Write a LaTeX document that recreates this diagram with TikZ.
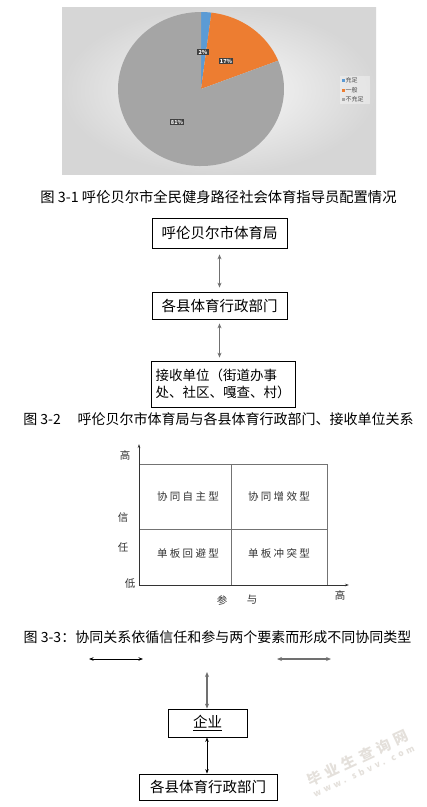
\documentclass[tikz,border=0pt]{standalone}
\usepackage{fontspec}
\setmainfont{Noto Sans CJK SC}
\newfontfamily\cjksp[LetterSpace=22]{Noto Sans CJK SC}
\newfontfamily\wmcjk[LetterSpace=32]{Noto Sans CJK SC}
\newfontfamily\wmlat[LetterSpace=40]{Noto Sans CJK SC}
\usetikzlibrary{arrows.meta}
\definecolor{pieblue}{HTML}{5B9BD5}
\definecolor{pieorange}{HTML}{ED7D31}
\definecolor{piegray}{HTML}{A5A5A5}
\definecolor{arrowgray}{HTML}{707070}
\definecolor{wmcol}{HTML}{E4E0DB}
\tikzset{
  fs/.style={font=\fontsize{#1}{#1}\selectfont},
  plbl/.style={fill=black!75, text=white, font=\fontsize{5.5}{6}\selectfont\bfseries, inner sep=1.2pt},
  legtxt/.style={font=\fontsize{6}{6}\selectfont, text=black!70, anchor=west, inner sep=0pt},
  legsq/.style={minimum size=3pt, inner sep=0pt},
  captxt/.style={fs=14, inner sep=0pt},
  boxnode/.style={draw=black, line width=0.8pt, inner sep=0pt, fs=14.5},
  dbl/.style={{Stealth[length=5pt,width=4pt]}-{Stealth[length=5pt,width=4pt]}, line width=1.4pt, draw=arrowgray},
  dblk/.style={{Stealth[length=4.5pt,width=3.5pt]}-{Stealth[length=4.5pt,width=3.5pt]}, line width=0.9pt, draw=black},
  axisln/.style={-{Stealth[length=4pt,width=2.5pt]}, line width=0.6pt, draw=black!80},
  gridln/.style={line width=0.5pt, draw=black!55},
  celltxt/.style={font=\cjksp\fontsize{10.5}{11}\selectfont, text=black!80, inner sep=0pt},
  axl/.style={fs=10.5, text=black!80, inner sep=0pt},
  wmtxt/.style={text=wmcol, rotate=25, inner sep=0pt, align=center}
}
\begin{document}
\begin{tikzpicture}[x=1pt,y=-1pt]
\useasboundingbox (0,0) rectangle (427,807);
\fill[white] (0,0) rectangle (427,807);

% ---------- pie chart panel ----------
\shade[inner color=white!97!gray, outer color=gray!32] (62,7) rectangle (376,174);
\coordinate (pc) at (201,89);
\fill[pieblue] (pc) -- ++(90:83pt and 77pt) arc[start angle=90, end angle=82.8, x radius=83pt, y radius=77pt] -- cycle;
\fill[pieorange] (pc) -- ++(82.8:83pt and 77pt) arc[start angle=82.8, end angle=21.6, x radius=83pt, y radius=77pt] -- cycle;
\fill[piegray] (pc) -- ++(21.6:83pt and 77pt) arc[start angle=21.6, end angle=-270, x radius=83pt, y radius=77pt] -- cycle;
\node[plbl] (p2) at (203,52) {2\%};
\node[plbl] (p17) at (226,61) {17\%};
\node[plbl] (p81) at (177,122) {81\%};
% legend
\fill[white, opacity=0.35] (340,76) rectangle (370,104);
\node[legsq, fill=pieblue] (sq1) at (343.5,80.5) {};
\node[legtxt] (lg1) at (345.5,80.5) {充足};
\node[legsq, fill=pieorange] (sq2) at (343.5,90) {};
\node[legtxt] (lg2) at (345.5,90) {一般};
\node[legsq, fill=piegray] (sq3) at (343.5,99.5) {};
\node[legtxt] (lg3) at (345.5,99.5) {不充足};

\node[captxt, fs=14.3] (cap1) at (218.5,197) {图 3-1 呼伦贝尔市全民健身路径社会体育指导员配置情况};

% ---------- figure 3-2 ----------
\node[boxnode, minimum width=135, minimum height=30] (b1) at (219.5,233) {呼伦贝尔市体育局};
\node[boxnode, minimum width=135, minimum height=27] (b2) at (219.5,305.5) {各县体育行政部门};
\node[boxnode, minimum width=144, minimum height=46, align=left, fs=13.5] (b3) at (223,384) {接收单位（街道办事\\[3pt]处、社区、嘎查、村）};
\draw[dbl, shorten <=6pt, shorten >=4pt] (b1.south) -- (b2.north);
\draw[dbl, shorten <=4pt, shorten >=3pt] (b2.south) -- (b2.south |- b3.north);

\node[captxt] (cap2) at (218.5,419) {图 3-2\hspace{1.2em}呼伦贝尔市体育局与各县体育行政部门、接收单位关系};

% ---------- figure 3-3 matrix ----------
\coordinate (o) at (139,585);
\coordinate (ytop) at (139,444);
\coordinate (xend) at (349,585);
\draw[gridln] (139,464) -- (327,464) -- (327,585);
\draw[gridln] (231,464) -- (231,585);
\draw[gridln] (139,529) -- (327,529);
\draw[axisln] (o) -- (ytop);
\draw[axisln] (o) -- (xend);
\node[celltxt] (c1) at (188,497) {协同自主型};
\node[celltxt] (c2) at (279,497) {协同增效型};
\node[celltxt] (c3) at (188,553) {单板回避型};
\node[celltxt] (c4) at (279,553) {单板冲突型};
\node[axl] (hy) at (125,455) {高};
\node[axl] (xin) at (123,518) {信};
\node[axl] (ren) at (123,548) {任};
\node[axl] (di) at (130,584) {低};
\node[axl] (can) at (222,600) {参};
\node[axl] (yu) at (252,600) {与};
\node[axl] (hx) at (340,595) {高};

\node[captxt] (cap3) at (217.5,637) {图 3-3：协同关系依循信任和参与两个要素而形成不同协同类型};

% ---------- bottom ----------
\coordinate (la) at (89,659);
\coordinate (lb) at (143,659);
\coordinate (ra) at (277,659);
\coordinate (rb) at (331,659);
\draw[dblk] (la) -- (lb);
\draw[dbl] (ra) -- (rb);
\node[boxnode, minimum width=79, minimum height=28] (qy) at (207.5,723) {\underline{企业}};
\coordinate (vt) at (207,672);
\draw[dbl] (vt) -- (vt |- qy.north);
\node[boxnode, minimum width=138, minimum height=26] (gx) at (208,787) {各县体育行政部门};
\draw[dblk] (qy.south -| vt) -- (vt |- gx.north);

% watermark
\node[wmtxt] (wm) at (360,763) {{\wmcjk\fontsize{14.5}{15}\selectfont\bfseries 毕业生查询网}\\[0pt]{\wmlat\fontsize{8.5}{9}\selectfont\bfseries www. sbvv. com}};
\end{tikzpicture}
\end{document}
